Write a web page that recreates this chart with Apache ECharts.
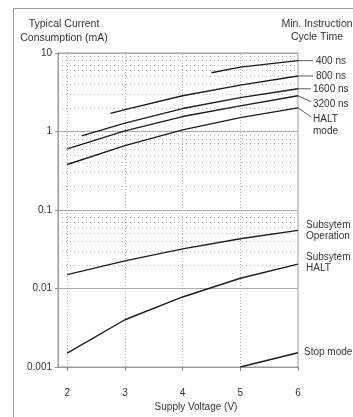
<!DOCTYPE html>
<html><head><meta charset="utf-8">
<script src="https://cdn.jsdelivr.net/npm/echarts@6/dist/echarts.min.js"></script>
<style>html,body{margin:0;padding:0;background:#fff}#c{width:353px;height:417px}</style>
</head><body><div id="c"></div>
<script>
// ---- data ----
const xTickValues = [2, 3, 4, 5, 6];
const xGridValues = [2, 3, 4, 5];
const yTickLabels = ['0.001', '0.01', '0.1', '1', '10'];
const yDecades = [0.001, 0.01, 0.1, 1];
const yMinorMultipliers = [2, 3, 4, 5, 6, 7, 8, 9];

const seriesNames = ['400 ns', '800 ns', '1600 ns', '3200 ns', 'HALT\nmode', 'Subsytem\nOperation', 'Subsytem\nHALT', 'Stop mode'];

const v400 = [4.5, 5, 6];
const i400 = [5.6, 6.6, 8.0];
const v800 = [2.75, 3, 4, 5, 6];
const i800 = [1.7, 1.9, 2.85, 3.9, 5.1];
const v1600 = [2.25, 3, 4, 5, 6];
const i1600 = [0.88, 1.28, 1.96, 2.7, 3.5];
const v3200 = [2, 3, 4, 5, 6];
const i3200 = [0.6, 1.02, 1.55, 2.12, 2.85];
const vHalt = [2, 3, 4, 5, 6];
const iHalt = [0.38, 0.66, 1.05, 1.5, 2.0];
const vSubOp = [2, 3, 4, 5, 6];
const iSubOp = [0.015, 0.0225, 0.032, 0.043, 0.055];
const vSubHalt = [2, 3, 4, 5, 6];
const iSubHalt = [0.0015, 0.004, 0.0078, 0.0135, 0.0204];
const vStop = [5, 6];
const iStop = [0.001, 0.00152];

const seriesV = [v400, v800, v1600, v3200, vHalt, vSubOp, vSubHalt, vStop];
const seriesI = [i400, i800, i1600, i3200, iHalt, iSubOp, iSubHalt, iStop];

// ---- layout (label offsets relative to curve end, callout end offsets) ----
const labelLayout = [
  {dx: 18, dy: 0.5, cx: 15, cy: 0},
  {dx: 18, dy: 0.5, cx: 15, cy: 0},
  {dx: 15, dy: 0.5, cx: 13, cy: 0},
  {dx: 15, dy: 8.5, cx: 13, cy: 6},
  {dx: 15, dy: 17.5, cx: 13, cy: 9},
  {dx: 8, dy: 0.5},
  {dx: 8, dy: -1.3},
  {dx: 6, dy: -0.5}
];

const FONT = "'Liberation Sans', Arial, sans-serif";
const chart = echarts.init(document.getElementById('c'), null, {renderer: 'canvas'});

const minorGrid = [];
yDecades.forEach(d => yMinorMultipliers.forEach(m => minorGrid.push({yAxis: d * m})));

const series = seriesNames.map((n, k) => ({
  name: n,
  type: 'line',
  data: seriesV[k].map((v, j) => [v, seriesI[k][j]]),
  symbol: 'none',
  smooth: false,
  lineStyle: {color: '#1c1c1c', width: 1.4},
  z: 5,
  animation: false
}));
series.push({
  type: 'line', data: [], symbol: 'none', silent: true, animation: false,
  markLine: {
    silent: true, symbol: ['none', 'none'], animation: false, label: {show: false},
    data: minorGrid.map(o => Object.assign({}, o, {lineStyle: {type: [1, 3], color: '#b0b0b0', width: 1}}))
      .concat(xGridValues.map(x => ({xAxis: x, lineStyle: {type: [1, 2], color: '#b0b0b0', width: 1}})))
  }
});

chart.setOption({
  animation: false,
  backgroundColor: '#fff',
  grid: {left: 58, right: 55, top: 53, bottom: 50, show: true, borderColor: '#9a9a9a', borderWidth: 1},
  xAxis: {
    type: 'value', min: 1.84, max: 6,
    axisLine: {show: true, lineStyle: {color: '#9a9a9a'}},
    axisTick: {show: true, customValues: xTickValues, length: 4, lineStyle: {color: '#888'}},
    axisLabel: {customValues: xTickValues, margin: 21, color: '#333', fontFamily: FONT, fontSize: 10},
    splitLine: {show: false}
  },
  yAxis: {
    type: 'log', logBase: 10, min: 0.001, max: 10,
    axisLine: {show: true, lineStyle: {color: '#9a9a9a'}},
    axisTick: {show: true, length: 3, lineStyle: {color: '#888'}},
    axisLabel: {
      margin: 6, color: '#333', fontFamily: FONT, fontSize: 10,
      formatter: v => yTickLabels[Math.round(Math.log10(v)) + 3]
    },
    splitLine: {show: true, lineStyle: {color: '#a8a8a8', width: 1}},
    minorTick: {show: false}, minorSplitLine: {show: false}
  },
  series: series
});

// annotations positioned from the library's scales
const graphics = [
  {type: 'line', shape: {x1: 13.5, y1: 8.5, x2: 353, y2: 8.5}, style: {stroke: '#999', lineWidth: 1}},
  {type: 'line', shape: {x1: 13.5, y1: 8.5, x2: 13.5, y2: 417}, style: {stroke: '#999', lineWidth: 1}},
  {type: 'text', style: {text: 'Typical Current\nConsumption (mA)', x: 64, y: 31, align: 'center', verticalAlign: 'middle',
    font: '10.5px ' + FONT, fill: '#333', lineHeight: 14}},
  {type: 'text', style: {text: 'Min. Instruction\nCycle Time', x: 317, y: 30.5, align: 'center', verticalAlign: 'middle',
    font: '10.5px ' + FONT, fill: '#333', lineHeight: 13}},
  {type: 'text', style: {text: 'Supply Voltage (V)', x: 196, y: 407.5, align: 'center', verticalAlign: 'middle',
    font: '10px ' + FONT, fill: '#333'}}
];
seriesNames.forEach((n, k) => {
  const vArr = seriesV[k], iArr = seriesI[k];
  const p = chart.convertToPixel({seriesIndex: k}, [vArr[vArr.length - 1], iArr[iArr.length - 1]]);
  const L = labelLayout[k];
  if (L.cx !== undefined) {
    graphics.push({type: 'line', shape: {x1: p[0], y1: p[1], x2: p[0] + L.cx, y2: p[1] + L.cy},
      style: {stroke: '#333', lineWidth: 0.8}});
  }
  const multi = n.indexOf('\n') >= 0;
  graphics.push({type: 'text', style: {text: n, x: p[0] + L.dx, y: p[1] + L.dy, align: 'left', verticalAlign: 'middle',
    font: '10px ' + FONT, fill: '#333', lineHeight: (k === 4) ? 12.5 : (multi ? 11.5 : 12)}});
});
chart.setOption({graphic: graphics});
</script>
</body></html>
